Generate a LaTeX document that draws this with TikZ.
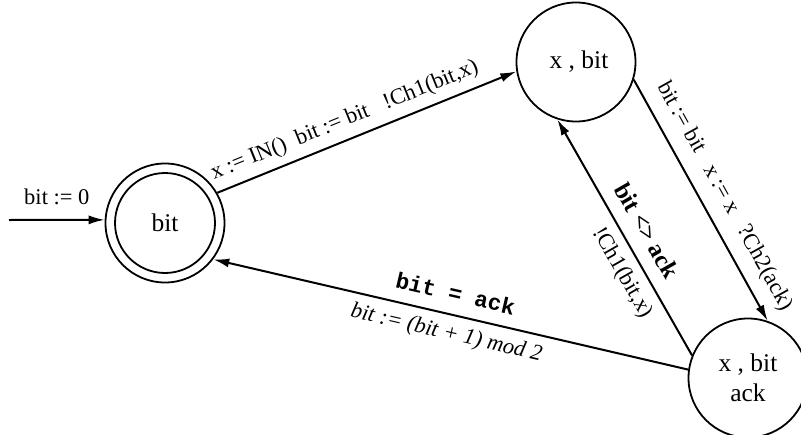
\documentclass[tikz,border=0pt]{standalone}
\usepackage{fontspec}
\setmainfont{Liberation Serif}
\setmonofont{Liberation Mono}
\usetikzlibrary{arrows.meta}
\begin{document}
\begin{tikzpicture}[x=1pt,y=-1pt,
  state/.style={circle, draw, line width=1.8pt, minimum size=119pt, inner sep=0pt,
    font=\fontsize{25.5}{30}\selectfont, align=center},
  conn/.style={line width=2pt, -{Latex[length=16pt,width=9pt]}},
  lab/.style={font=\fontsize{22.5}{26}\selectfont, inner sep=0pt, text height=16pt, text depth=4.5pt},
  slab/.style={lab, sloped},
]
\clip (0,0) rectangle (801,434);
\node[state] (b) at (165,223) {bit};
\draw[line width=1.8pt] (b.center) circle (50pt);
\node[state] (t) at (576,62) {\hspace{6pt}x , bit};
\node[state] (r) at (748,378) {x , bit\\ack};
\coordinate (s) at (9,220);

\draw[conn] (s) -- (b.177)
  node[lab, pos=0.5, above=10pt] {bit := 0};
\draw[conn] (b.30) -- (t.189)
  node[slab, pos=0.45, above=8pt] {x := IN()\ \ bit := bit\ \ \ !Ch1(bit,x)};
\draw[conn] (t.343) -- (r.71)
  node[slab, pos=0.53, above=12pt] {bit := bit\ \ \ x := x\ \ \ ?Ch2(ack)};
\draw[conn] (r.158) -- (t.252.5)
  node[slab, pos=0.48, above=9pt, font=\fontsize{24.5}{28}\bfseries] {bit <> ack}
  node[slab, pos=0.39, below=8pt] {!Ch1(bit,x)};
\draw[conn] (r.172.5) -- (b.323)
  node[slab, pos=0.5, above=8pt, font=\fontsize{22.5}{26}\ttfamily\bfseries] {bit = ack}
  node[slab, pos=0.5, below=8pt, font=\fontsize{22.5}{26}\itshape] {bit := (bit + 1) mod 2};
\end{tikzpicture}
\end{document}
